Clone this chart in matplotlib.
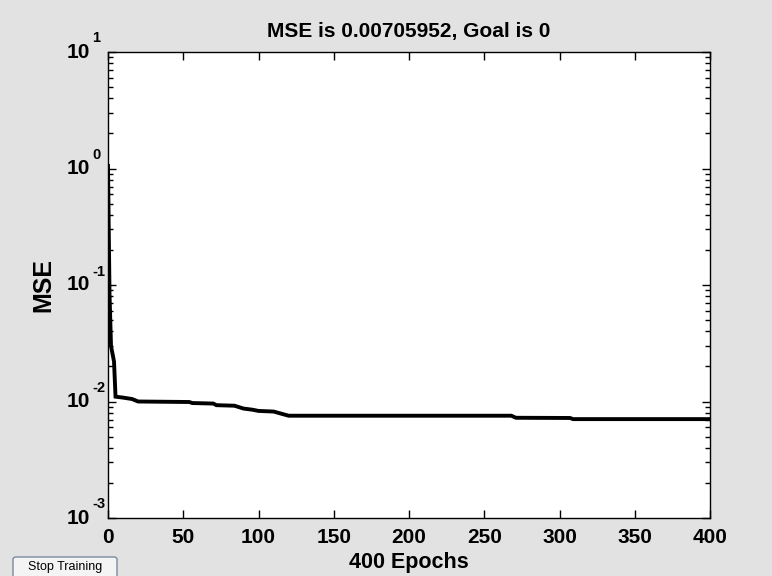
import math
import matplotlib
matplotlib.use("Agg")
import matplotlib.pyplot as plt
import matplotlib.ticker as mticker
import matplotlib.transforms as mtransforms
from matplotlib.patches import FancyBboxPatch

plt.rcParams['font.family'] = ['Liberation Sans', 'DejaVu Sans']

# Data
epochs = [0, 1, 2, 4, 5, 10, 16, 20, 54, 56, 70, 72, 84, 90, 96, 100, 110, 120,
          268, 271, 307, 309, 400]
mse = [1.05, 0.085, 0.030, 0.022, 0.0110, 0.0108, 0.0105, 0.0100, 0.0099, 0.0097,
       0.0096, 0.0093, 0.0092, 0.0087, 0.0085, 0.0083, 0.0082, 0.00755,
       0.00755, 0.00725, 0.00722, 0.00706, 0.00706]
title_text = "MSE is 0.00705952, Goal is 0"
xlabel_text = "400 Epochs"
ylabel_text = "MSE"
xticks = [0, 50, 100, 150, 200, 250, 300, 350, 400]
yticks = [1e-3, 1e-2, 1e-1, 1e0, 1e1]

bg = '#e2e2e2'
fig = plt.figure(figsize=(7.72, 5.76), dpi=100, facecolor=bg)
ax = fig.add_axes([108/772, 1-518/576, (710-108)/772, (518-52)/576])
ax.set_facecolor('white')

ax.plot(epochs, mse, color='black', linewidth=2.8, solid_joinstyle='miter')
ax.set_yscale('log')
ax.set_xlim(0, 400)
ax.set_ylim(1e-3, 1e1)
ax.set_xticks(xticks)
ax.set_yticks(yticks)
ax.yaxis.set_major_formatter(mticker.NullFormatter())
ax.yaxis.set_minor_locator(mticker.LogLocator(base=10, subs=range(2, 10)))
ax.yaxis.set_minor_formatter(mticker.NullFormatter())

ax.tick_params(axis='both', which='both', direction='in', top=True, right=True,
               width=1.0, color='black')
ax.tick_params(axis='both', which='major', length=6, labelsize=15, pad=7)
ax.tick_params(axis='y', which='minor', length=3.5)
for lbl in ax.get_xticklabels():
    lbl.set_fontweight('bold')
for s in ax.spines.values():
    s.set_linewidth(1.0)
    s.set_color('black')

# MATLAB-style y tick labels: "10" centred on tick, exponent raised after it
base_tr = mtransforms.blended_transform_factory(ax.transAxes, ax.transData)
for yt in yticks:
    exp = int(round(math.log10(yt)))
    tr10 = base_tr + mtransforms.ScaledTranslation(-18/100, 0, fig.dpi_scale_trans)
    ax.text(0, yt, "10", transform=tr10, ha='right', va='center',
            fontsize=15, fontweight='bold', clip_on=False)
    tre = base_tr + mtransforms.ScaledTranslation(-16/100, 9.5/100, fig.dpi_scale_trans)
    ax.text(0, yt, "%d" % exp, transform=tre, ha='left', va='baseline',
            fontsize=10.5, fontweight='bold', clip_on=False)

ax.set_title(title_text, fontsize=15, fontweight='bold', pad=11)
ax.set_xlabel(xlabel_text, fontsize=15.5, fontweight='bold', labelpad=4)
ax.set_ylabel(ylabel_text, fontsize=18, fontweight='bold', labelpad=31)

# Stop Training button
btn = FancyBboxPatch((13/772, -0.01), (117-13)/772, (576-557)/576 + 0.01,
                     boxstyle='round,pad=0,rounding_size=0.004',
                     transform=fig.transFigure, facecolor='#f4f4f4',
                     edgecolor='#7a8aa0', linewidth=1.0, clip_on=False)
fig.patches.append(btn)
fig.text(65/772, 1-567/576, "Stop Training", fontsize=9, ha='center', va='center')

fig.savefig('out.png', dpi=100, facecolor=bg)
